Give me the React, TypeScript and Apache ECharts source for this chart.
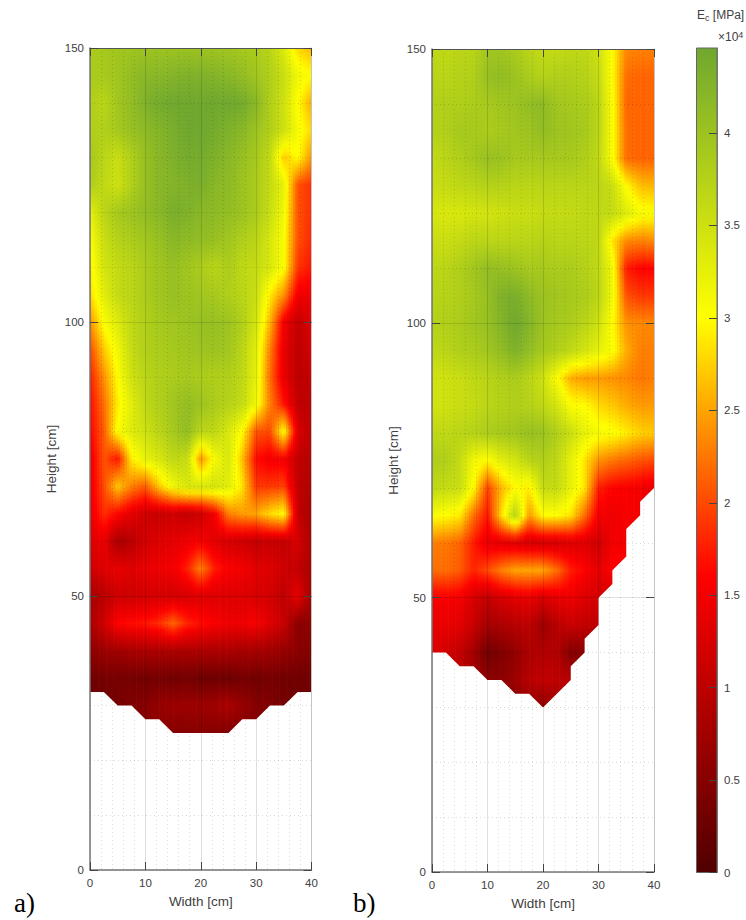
import React, { useEffect, useRef } from "react";
import * as echarts from "echarts";

const widths = [0, 2.5, 5, 7.5, 10, 12.5, 15, 17.5, 20, 22.5, 25, 27.5, 30, 32.5, 35, 37.5, 40];
const heightsA = [150, 145, 140, 135, 130, 125, 120, 115, 110, 105, 100, 95, 90, 85, 80, 75, 70, 65, 60, 55, 50, 45, 40, 35, 30, 25];
const heightsB = [150, 145, 140, 135, 130, 125, 120, 115, 110, 105, 100, 95, 90, 85, 80, 75, 70, 65, 60, 55, 50, 45, 40, 35, 30];

const valuesA = [
  [3.85,3.9,3.95,3.98,4.0,4.0,4.0,4.0,4.0,3.98,3.95,3.9,3.85,3.7,3.35,2.8,2.6],
  [3.85,3.9,3.95,4.1,4.2,4.2,4.25,4.3,4.3,4.25,4.2,4.1,3.95,3.8,3.55,3.15,3.0],
  [3.8,3.7,3.95,4.1,4.3,4.4,4.45,4.45,4.45,4.45,4.45,4.4,4.2,3.8,3.5,3.0,2.55],
  [3.8,3.8,3.9,4.05,4.15,4.25,4.35,4.45,4.45,4.4,4.3,4.2,4.0,3.8,3.5,3.1,2.8],
  [3.9,3.7,3.55,3.8,4.05,4.2,4.3,4.4,4.4,4.3,4.2,4.05,3.9,3.6,2.7,3.0,2.4],
  [3.8,3.65,3.5,3.8,4.05,4.2,4.25,4.3,4.35,4.2,4.15,4.0,3.85,3.6,3.25,2.05,1.85],
  [3.25,3.7,3.9,4.0,4.1,4.2,4.35,4.3,4.2,4.15,4.1,4.0,3.85,3.55,3.15,2.05,1.85],
  [3.05,3.55,3.75,3.85,3.95,4.05,4.2,4.15,4.1,4.05,3.95,3.8,3.7,3.4,3.05,2.05,1.8],
  [2.9,3.45,3.6,3.7,3.85,3.95,4.05,3.95,3.85,3.7,3.85,3.65,3.6,3.4,3.05,1.9,1.7],
  [2.8,3.3,3.6,3.7,3.85,3.95,4.05,4.0,3.95,3.9,3.8,3.7,3.55,2.9,2.4,1.5,1.45],
  [2.4,3.05,3.35,3.65,3.8,3.9,3.95,4.0,4.05,4.05,4.0,3.8,3.45,2.6,1.5,1.05,1.3],
  [2.0,2.7,3.15,3.6,3.8,3.85,3.9,3.95,4.0,4.0,3.95,3.7,3.3,2.3,1.4,1.0,1.2],
  [1.75,2.4,3.0,3.5,3.7,3.8,3.85,3.9,3.85,3.8,3.8,3.65,3.25,2.2,1.4,1.0,1.05],
  [1.65,2.2,2.9,3.3,3.65,3.8,3.95,4.1,4.0,3.85,3.75,3.6,3.15,2.3,1.7,1.05,0.95],
  [1.6,2.1,3.05,3.35,3.5,3.7,3.9,4.1,3.7,3.65,3.4,3.0,2.05,2.0,3.05,1.3,0.95],
  [1.45,2.05,1.7,2.9,3.25,3.4,3.65,3.6,2.4,3.1,3.4,2.65,1.65,1.5,1.5,1.05,0.9],
  [1.45,2.0,2.7,2.3,2.1,2.7,3.15,3.4,3.4,3.45,3.3,2.85,1.9,1.9,1.95,1.05,0.85],
  [1.4,1.85,1.6,1.35,1.15,1.1,1.15,1.05,1.15,1.5,2.3,2.45,2.5,2.8,3.0,1.1,0.75],
  [1.3,1.4,0.8,0.95,1.2,1.3,1.35,1.45,1.5,1.35,1.2,1.15,1.05,1.1,1.05,1.25,0.8],
  [1.15,1.3,1.4,1.3,1.4,1.45,1.5,1.75,2.3,1.75,1.55,1.5,1.35,1.3,1.15,1.05,0.8],
  [0.8,0.95,1.15,1.15,1.2,1.2,1.2,1.25,1.3,1.3,1.3,1.3,1.25,1.2,1.0,1.4,0.7],
  [0.85,1.15,1.6,1.65,1.7,1.85,2.15,1.8,1.65,1.55,1.45,1.45,1.55,1.3,1.1,0.55,0.55],
  [0.55,0.7,0.75,0.8,0.85,0.85,0.85,0.85,0.85,0.85,0.85,0.8,0.8,0.75,0.65,0.55,0.45],
  [0.3,0.35,0.35,0.35,0.3,0.35,0.3,0.35,0.25,0.3,0.25,0.35,0.3,0.35,0.3,0.3,0.3],
  [0.3,0.3,0.35,0.45,0.5,0.65,0.7,0.7,0.7,0.75,0.85,0.65,0.5,0.45,0.35,0.3,0.3],
  [0.4,0.4,0.4,0.45,0.5,0.5,0.5,0.5,0.5,0.5,0.45,0.45,0.45,0.45,0.4,0.4,0.4],
];

const valuesB = [
  [3.65,3.65,3.7,3.7,3.95,3.95,3.85,3.7,3.6,3.6,3.65,3.65,3.5,3.0,2.35,2.3,2.3],
  [3.7,3.7,3.75,3.8,4.05,4.1,4.0,3.85,3.75,3.8,3.8,3.75,3.6,3.0,2.2,2.15,2.15],
  [3.75,3.8,3.8,3.85,3.9,3.95,4.0,4.1,4.15,3.95,3.9,3.85,3.7,3.05,2.15,2.15,2.15],
  [3.75,3.8,3.9,3.9,3.85,3.9,3.95,4.0,4.1,4.0,3.95,3.9,3.7,3.05,2.2,2.15,2.15],
  [3.6,3.7,3.8,3.9,4.05,4.0,3.9,3.9,3.9,3.9,3.9,3.8,3.65,3.05,2.2,2.15,2.15],
  [3.55,3.6,3.65,3.7,3.75,3.75,3.7,3.7,3.7,3.7,3.7,3.7,3.7,3.55,3.0,2.65,2.6],
  [3.4,3.4,3.4,3.45,3.45,3.5,3.55,3.55,3.6,3.6,3.6,3.65,3.65,3.6,3.35,3.1,3.05],
  [3.55,3.55,3.6,3.7,3.7,3.7,3.7,3.7,3.75,3.7,3.7,3.7,3.65,2.85,2.35,2.3,2.35],
  [3.65,3.7,3.8,3.95,4.1,4.05,4.0,3.9,3.9,3.85,3.85,3.75,3.65,3.15,1.75,1.6,1.6],
  [3.7,3.75,3.8,3.9,4.05,4.3,4.35,4.15,4.0,3.95,3.9,3.85,3.7,3.15,2.05,1.9,1.9],
  [3.75,3.8,3.85,3.95,4.05,4.25,4.45,4.25,4.0,3.9,3.85,3.7,3.5,3.0,2.4,2.35,2.35],
  [3.65,3.7,3.8,3.85,3.95,4.1,4.3,4.1,3.9,3.8,3.65,3.45,3.25,3.05,2.55,2.3,2.3],
  [3.45,3.5,3.55,3.65,3.7,3.8,3.85,3.7,3.5,3.05,2.55,2.45,2.45,2.4,2.35,2.25,2.3],
  [3.45,3.5,3.55,3.6,3.7,3.75,3.8,3.75,3.65,3.45,3.05,3.0,2.8,2.7,2.55,2.45,2.45],
  [3.65,3.65,3.7,3.75,3.85,3.9,3.95,4.05,4.0,3.8,3.55,3.25,3.1,3.05,2.9,2.75,2.7],
  [3.8,3.8,3.6,3.15,3.0,3.3,3.45,3.7,3.8,3.65,3.25,2.85,2.4,2.25,2.15,2.05,2.0],
  [3.65,3.6,3.55,3.0,1.95,2.6,3.0,2.9,3.6,3.6,3.25,2.85,1.75,1.6,1.55,1.5,1.4],
  [3.05,3.0,2.9,2.2,1.7,2.8,3.75,2.45,3.0,3.0,2.85,2.2,1.5,1.45,1.55,1.5,1.4],
  [2.3,2.25,2.15,1.75,1.4,1.35,1.3,1.2,1.2,1.2,1.3,1.3,1.15,1.5,1.5,1.5,1.5],
  [2.2,2.2,2.1,1.8,2.0,2.3,2.5,2.5,2.5,2.2,1.75,1.6,1.35,1.6,1.6,1.6,1.6],
  [1.55,1.55,1.5,1.25,1.05,1.25,1.35,1.4,1.25,1.4,1.45,1.3,1.2,1.2,1.2,1.2,1.2],
  [1.4,1.4,1.35,1.1,0.75,0.85,0.95,1.0,0.7,0.95,1.1,1.05,1.0,1.0,1.0,1.0,1.0],
  [1.3,1.2,1.05,0.75,0.3,0.45,0.6,0.85,0.9,0.9,0.45,0.55,0.6,0.6,0.6,0.6,0.6],
  [1.0,1.0,0.95,0.8,0.55,0.55,0.7,0.95,1.05,1.0,0.95,0.9,0.9,0.9,0.9,0.9,0.9],
  [0.8,0.8,0.8,0.7,0.4,0.4,0.5,0.6,0.55,0.7,0.8,0.8,0.8,0.8,0.8,0.8,0.8],
];

// Lower outline of the measured area of each wall
const outlineA = [[0,32.5],[2.5,32.5],[5,30],[7.5,30],[10,27.5],[12.5,27.5],[15,25],[25,25],[27.5,27.5],[30,27.5],[32.5,30],[35,30],[37.5,32.5],[40,32.5]];
const outlineB = [[0,40],[2.5,40],[5,37.5],[7.5,37.5],[10,35],[12.5,35],[15,32.5],[17.5,32.5],[20,30],[25,35],[25,37.5],[27.5,40],[27.5,42.5],[30,45],[30,50],[32.5,52.5],[32.5,55],[35,57.5],[35,62.5],[37.5,65],[37.5,67.5],[40,70]];

const colorValues = [0, 1.6, 3, 4.46];
const colorRgb = [[80, 0, 0], [255, 0, 0], [255, 255, 0], [111, 167, 47]];
const xTicks = { min: 0, max: 40, interval: 10 };
const yTicks = { min: 0, max: 150, interval: 50 };
const barMax = 4.46;

const SUB_X = 6;
const SUB_Y = 4;
const FONT = "Liberation Sans";
const TEXT = "#404040";

function hex(n: number) {
  return Math.max(0, Math.min(255, Math.round(n))).toString(16).padStart(2, "0");
}
function colorOf(v: number) {
  let k = 0;
  while (k < colorValues.length - 2 && v > colorValues[k + 1]) k++;
  const t = Math.max(0, Math.min(1, (v - colorValues[k]) / (colorValues[k + 1] - colorValues[k])));
  const a = colorRgb[k];
  const b = colorRgb[k + 1];
  return "#" + hex(a[0] + (b[0] - a[0]) * t) + hex(a[1] + (b[1] - a[1]) * t) + hex(a[2] + (b[2] - a[2]) * t);
}

function fieldSeries(heights: number[], rows: number[][], xAxisIndex: number, yAxisIndex: number) {
  const data: number[][] = [];
  heights.forEach((h, j) => widths.forEach((w, i) => data.push([w, h, rows[j][i]])));
  const nx = widths.length;
  return {
    type: "custom",
    xAxisIndex,
    yAxisIndex,
    silent: true,
    z: 2,
    clip: true,
    encode: { x: 0, y: 1, tooltip: 2 },
    data,
    renderItem: (params: any, api: any) => {
      const idx = params.dataIndex;
      const i = idx % nx;
      const j = Math.floor(idx / nx);
      if (j !== 0 || i >= nx - 1) return null;
      const top = api.coord([widths[i], heights[0]])[1];
      const bottom = api.coord([widths[i], heights[heights.length - 1]])[1];
      const x0 = api.coord([widths[i], heights[0]])[0];
      const x1 = api.coord([widths[i + 1], heights[0]])[0];
      const children: any[] = [];
      for (let s = 0; s < SUB_X; s++) {
        const t = (s + 0.5) / SUB_X;
        const stops: any[] = [];
        const R = heights.length - 1;
        for (let r = 0; r < R; r++) {
          const va = rows[r][i] + (rows[r][i + 1] - rows[r][i]) * t;
          const vb = rows[r + 1][i] + (rows[r + 1][i + 1] - rows[r + 1][i]) * t;
          for (let q = 0; q < SUB_Y; q++) {
            stops.push({ offset: (r + q / SUB_Y) / R, color: colorOf(va + ((vb - va) * q) / SUB_Y) });
          }
        }
        stops.push({ offset: 1, color: colorOf(rows[R][i] + (rows[R][i + 1] - rows[R][i]) * t) });
        const left = x0 + ((x1 - x0) * s) / SUB_X;
        const w = (x1 - x0) / SUB_X + (i === nx - 2 && s === SUB_X - 1 ? 0 : 0.7);
        children.push({
          type: "rect",
          shape: { x: left, y: top, width: w, height: bottom - top },
          style: { fill: new echarts.graphic.LinearGradient(0, 0, 0, 1, stops) },
        });
      }
      return { type: "group", children };
    },
  };
}

function maskSeries(outline: number[][], xAxisIndex: number, yAxisIndex: number) {
  return {
    type: "custom",
    xAxisIndex,
    yAxisIndex,
    silent: true,
    z: 3,
    clip: false,
    encode: { x: 0, y: 1 },
    data: outline,
    renderItem: (params: any, api: any) => {
      if (params.dataIndex !== 0) return null;
      const pts = [[0, 0], ...outline, [40, 0]].map((p) => api.coord(p));
      return { type: "polygon", shape: { points: pts }, style: { fill: "#ffffff" } };
    },
  };
}

function mainX(gridIndex: number) {
  return {
    type: "value",
    gridIndex,
    position: "bottom",
    ...xTicks,
    z: 5,
    axisLine: { show: true, onZero: false, lineStyle: { color: "#777777", width: 1.5 } },
    axisTick: { show: true, inside: true, length: 8, lineStyle: { color: "#444444", width: 1 } },
    axisLabel: { color: TEXT, fontFamily: FONT, fontSize: 11.5, margin: 7 },
    splitLine: { show: true, lineStyle: { color: "rgba(0,0,0,0.12)", width: 1 } },
    minorTick: { show: false, splitNumber: 5 },
    minorSplitLine: { show: true, lineStyle: { color: "rgba(0,0,0,0.14)", width: 1, type: [1, 3] } },
    name: "Width [cm]",
    nameLocation: "middle",
    nameGap: 24,
    nameTextStyle: { color: TEXT, fontFamily: FONT, fontSize: 13.5 },
  };
}
function topX(gridIndex: number) {
  return {
    type: "value",
    gridIndex,
    position: "top",
    ...xTicks,
    z: 5,
    axisLine: { show: true, onZero: false, lineStyle: { color: "#555555", width: 1 } },
    axisTick: { show: true, inside: true, length: 8, lineStyle: { color: "#444444", width: 1 } },
    axisLabel: { show: false },
    splitLine: { show: false },
  };
}
function mainY(gridIndex: number) {
  return {
    type: "value",
    gridIndex,
    position: "left",
    ...yTicks,
    z: 5,
    axisLine: { show: true, onZero: false, lineStyle: { color: "#777777", width: 1.5 } },
    axisTick: { show: true, inside: true, length: 8, lineStyle: { color: "#444444", width: 1 } },
    axisLabel: { color: TEXT, fontFamily: FONT, fontSize: 11.5, margin: 6 },
    splitLine: { show: true, lineStyle: { color: "rgba(0,0,0,0.12)", width: 1 } },
    minorTick: { show: false, splitNumber: 5 },
    minorSplitLine: { show: true, lineStyle: { color: "rgba(0,0,0,0.14)", width: 1, type: [1, 3] } },
    name: "Height [cm]",
    nameLocation: "middle",
    nameGap: 32,
    nameTextStyle: { color: TEXT, fontFamily: FONT, fontSize: 13.5 },
  };
}
function rightY(gridIndex: number) {
  return {
    type: "value",
    gridIndex,
    position: "right",
    ...yTicks,
    z: 5,
    axisLine: { show: true, onZero: false, lineStyle: { color: "#c4c4c4", width: 1 } },
    axisTick: { show: true, inside: true, length: 8, lineStyle: { color: "#444444", width: 1 } },
    axisLabel: { show: false },
    splitLine: { show: false },
  };
}

export default function App() {
  const ref = useRef<HTMLDivElement>(null);
  useEffect(() => {
    const chart = echarts.init(ref.current!, undefined, { renderer: "svg" });
    const barStops = colorValues.map((v) => ({
      offset: 1 - v / barMax,
      color: colorOf(v),
    })).reverse();
    chart.setOption({
      animation: false,
      backgroundColor: "#ffffff",
      grid: [
        { left: 90, width: 221.5, top: 48, height: 822 },
        { left: 432, width: 222, top: 49, height: 823 },
        { left: 696.5, width: 20.5, top: 48, height: 824.5 },
      ],
      xAxis: [
        mainX(0),
        topX(0),
        mainX(1),
        topX(1),
        { type: "value", gridIndex: 2, min: 0, max: 1, show: false },
      ],
      yAxis: [
        mainY(0),
        rightY(0),
        mainY(1),
        rightY(1),
        {
          type: "value",
          gridIndex: 2,
          position: "right",
          min: 0,
          max: barMax,
          interval: 0.5,
          z: 5,
          axisLine: { show: true, onZero: false, lineStyle: { color: "#777777", width: 1 } },
          axisTick: { show: true, inside: true, length: 8, lineStyle: { color: "#444444", width: 1 } },
          axisLabel: { color: TEXT, fontFamily: FONT, fontSize: 11.5, margin: 7, showMaxLabel: false },
          splitLine: { show: false },
        },
      ],
      series: [
        fieldSeries(heightsA, valuesA, 0, 0),
        maskSeries(outlineA, 0, 0),
        fieldSeries(heightsB, valuesB, 2, 2),
        maskSeries(outlineB, 2, 2),
        {
          type: "custom",
          xAxisIndex: 4,
          yAxisIndex: 4,
          silent: true,
          z: 2,
          encode: { x: 0, y: 1 },
          data: [[0, 0]],
          renderItem: (_p: any, api: any) => {
            const a = api.coord([0, barMax]);
            const b = api.coord([1, 0]);
            return {
              type: "rect",
              shape: { x: a[0], y: a[1], width: b[0] - a[0], height: b[1] - a[1] },
              style: {
                fill: new echarts.graphic.LinearGradient(0, 0, 0, 1, barStops),
                stroke: "#666666",
                lineWidth: 1,
              },
            };
          },
        },
      ],
      graphic: [
        { type: "text", left: 14, top: 889, style: { text: "a)", font: "27px 'Liberation Serif'", fill: "#000000" } },
        { type: "text", left: 353, top: 889, style: { text: "b)", font: "27px 'Liberation Serif'", fill: "#000000" } },
        {
          type: "text",
          left: 697,
          top: 9,
          style: {
            text: "E{s|c} [MPa]",
            font: "12px 'Liberation Sans'",
            fill: TEXT,
            rich: { s: { fontSize: 9, fontFamily: FONT, fill: TEXT, verticalAlign: "bottom", padding: [6, 0, 0, 0] } },
          },
        },
        {
          type: "text",
          left: 718,
          top: 30,
          style: {
            text: "×10{p|4}",
            font: "12px 'Liberation Sans'",
            fill: TEXT,
            rich: { p: { fontSize: 9, fontFamily: FONT, fill: TEXT, verticalAlign: "top", padding: [0, 0, 5, 0] } },
          },
        },
      ],
    });
    return () => chart.dispose();
  }, []);
  return <div ref={ref} style={{ position: "absolute", left: 0, top: 0, width: 746, height: 920 }} />;
}
